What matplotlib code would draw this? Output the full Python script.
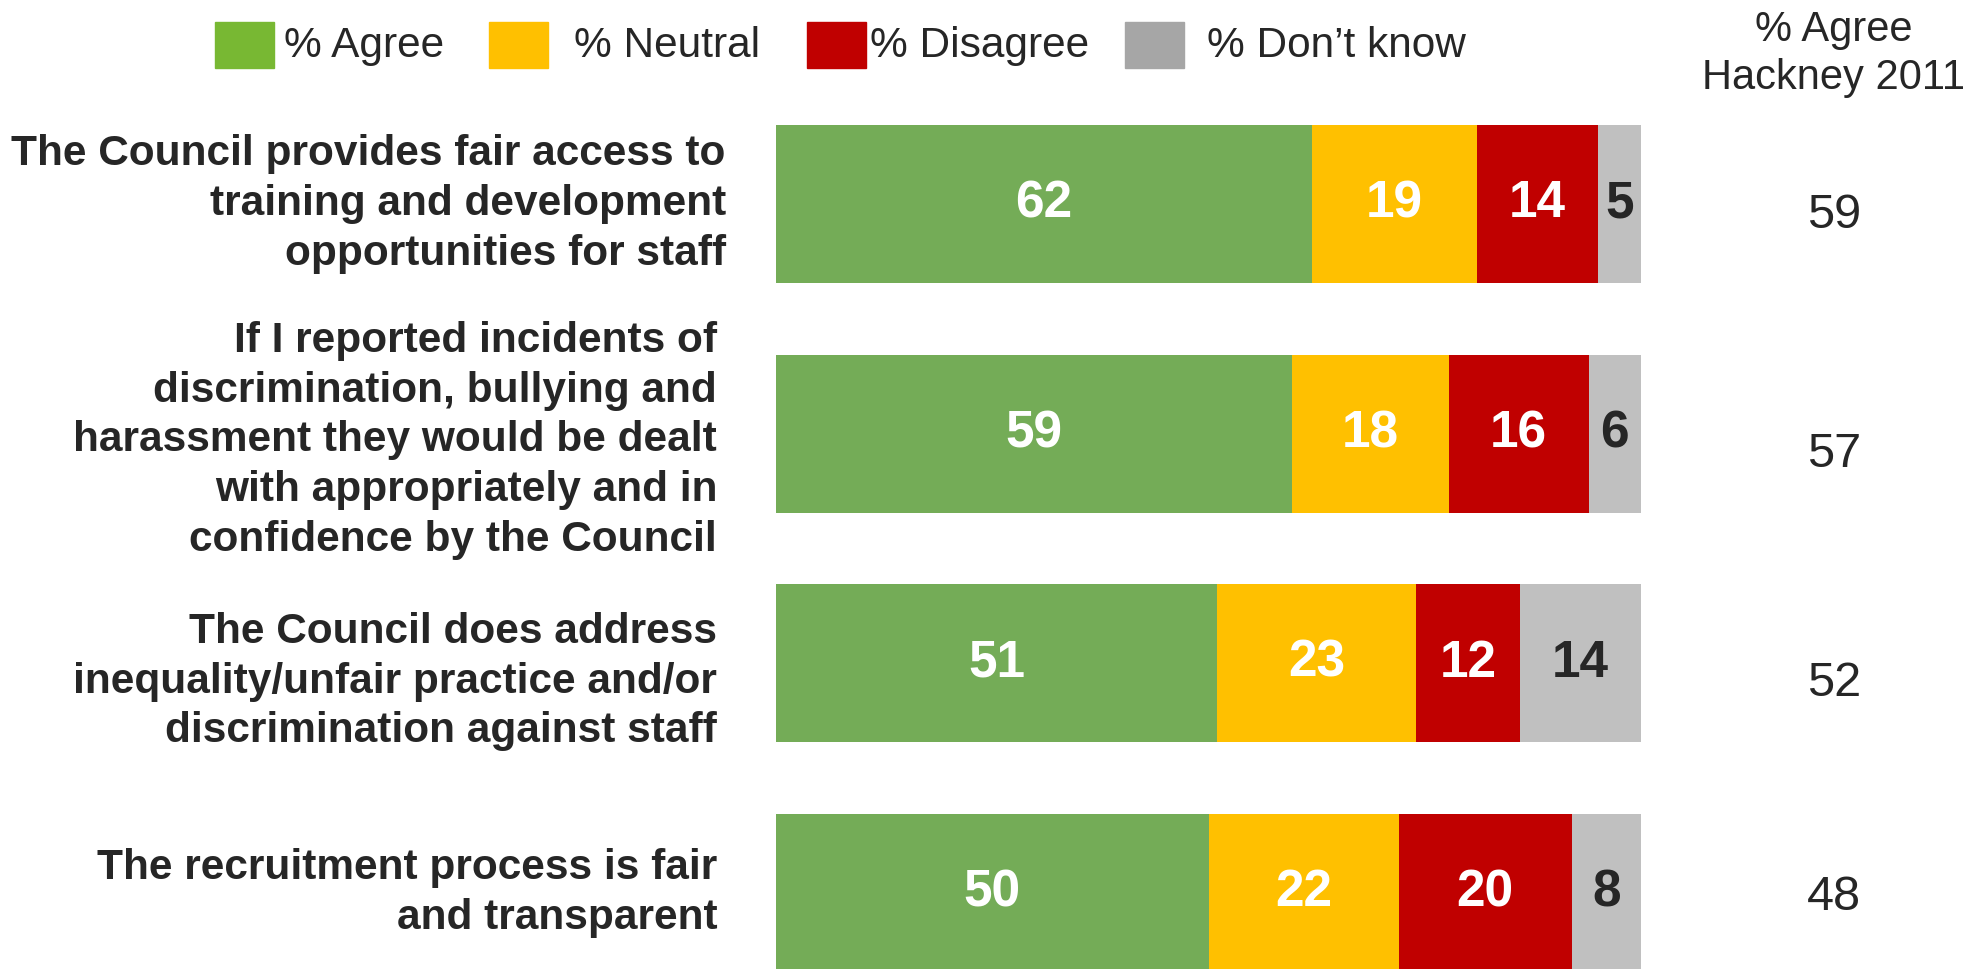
import matplotlib
matplotlib.use("Agg")
import matplotlib.pyplot as plt
from matplotlib.patches import Rectangle

plt.rcParams['font.family'] = ['Liberation Sans', 'DejaVu Sans']

questions = [
    "The Council provides fair access to\ntraining and development\nopportunities for staff",
    "If I reported incidents of\ndiscrimination, bullying and\nharassment they would be dealt\nwith appropriately and in\nconfidence by the Council",
    "The Council does address\ninequality/unfair practice and/or\ndiscrimination against staff",
    "The recruitment process is fair\nand transparent",
]
agree = [62, 59, 51, 50]
neutral = [19, 18, 23, 22]
disagree = [14, 16, 12, 20]
dont_know = [5, 6, 14, 8]
hackney_2011 = [59, 57, 52, 48]

series_names = ["% Agree", "% Neutral", "% Disagree", "% Don\u2019t know"]
bar_colors = ["#74AC57", "#FFC000", "#C00000", "#C0C0C0"]
legend_colors = ["#78B833", "#FFC000", "#C00000", "#A6A6A6"]
label_colors = ["white", "white", "white", "#262626"]
right_header = "% Agree\nHackney 2011"

W, H = 1986, 969
fig = plt.figure(figsize=(W / 100, H / 100), dpi=100)

ax_left, ax_right = 776, 1641
ax = fig.add_axes([ax_left / W, 0, (ax_right - ax_left) / W, 1])
ax.set_xlim(0, 100)
ax.set_ylim(3.332, -0.888)
ax.axis('off')

series = [agree, neutral, disagree, dont_know]
totals = [sum(t) for t in zip(*series)]
pos = list(range(len(questions)))
left = [0.0] * len(questions)
for vals, col, lcol in zip(series, bar_colors, label_colors):
    widths = [v / t * 100 for v, t in zip(vals, totals)]
    bars = ax.barh(pos, widths, left=left, height=0.688, color=col, edgecolor='none')
    for b, v in zip(bars, vals):
        ax.text(b.get_x() + b.get_width() / 2, b.get_y() + b.get_height() / 2, f"{v}",
                ha='center', va='center', fontsize=37, fontweight='bold', color=lcol)
    left = [l + w for l, w in zip(left, widths)]

# question labels (left), offsets in data units
label_offsets = [0.0, 0.03, 0.08, 0.0]
label_x = [-5.8, -6.8, -6.8, -6.8]
for i, q in enumerate(questions):
    ax.text(label_x[i], i + label_offsets[i], q, ha='right', va='center', fontsize=30.5,
            fontweight='bold', color='#262626', linespacing=1.31, clip_on=False)

# right column: 2011 agree
right_x = (1834 - ax_left) / (ax_right - ax_left) * 100
right_offsets = [0.05, 0.09, 0.09, 0.02]
for i, v in enumerate(hackney_2011):
    ax.text(right_x, i + right_offsets[i], f"{v}", ha='center', va='center', fontsize=35,
            color='#262626', clip_on=False)
fig.text(1834 / W, 1 - 54 / H, right_header, ha='center', va='center', fontsize=30,
         color='#262626', linespacing=1.26)

# legend
sw_x = [215, 489, 807, 1125]
tx_x = [284, 574, 870, 1207]
for name, col, sx, tx in zip(series_names, legend_colors, sw_x, tx_x):
    fig.patches.append(Rectangle((sx / W, 1 - 68 / H), 59 / W, 46 / H,
                                 transform=fig.transFigure, color=col))
    fig.text(tx / W, 1 - 46 / H, name, ha='left', va='center', fontsize=30.5, color='#262626')

fig.savefig("out.png", dpi=100)
